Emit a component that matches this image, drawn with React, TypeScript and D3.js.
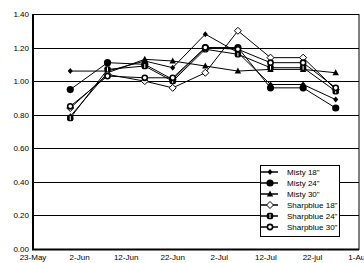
import React, { useEffect, useRef } from 'react';
import * as d3 from 'd3';

const sampleDates = ['2001-05-31', '2001-06-08', '2001-06-16', '2001-06-22', '2001-06-29', '2001-07-06', '2001-07-13', '2001-07-20', '2001-07-27'];
const tickDates = ['2001-05-23', '2001-06-02', '2001-06-12', '2001-06-22', '2001-07-02', '2001-07-12', '2001-07-22', '2001-08-01'];
const tickLabels = ['23-May', '2-Jun', '12-Jun', '22-Jun', '2-Jul', '12-Jul', '22-jul', '1-Aug'];
const yTicks = [0, 0.2, 0.4, 0.6, 0.8, 1.0, 1.2, 1.4];

const seriesNames = ['Misty 18"', 'Misty 24"', 'Misty 30"', 'Sharpblue 18"', 'Sharpblue 24"', 'Sharpblue 30"'];
const misty18 = [1.06, 1.06, 1.12, 1.08, 1.28, 1.17, 0.98, 0.98, 0.89];
const misty24 = [0.95, 1.11, 1.10, 1.01, 1.20, 1.20, 0.96, 0.96, 0.84];
const misty30 = [0.79, 1.05, 1.13, 1.12, 1.09, 1.06, 1.07, 1.07, 1.05];
const sharp18 = [0.84, 1.04, 1.00, 0.96, 1.05, 1.30, 1.14, 1.14, 0.95];
const sharp24 = [0.78, 1.07, 1.09, 1.00, 1.19, 1.16, 1.08, 1.08, 0.94];
const sharp30 = [0.85, 1.03, 1.02, 1.02, 1.20, 1.19, 1.11, 1.11, 0.96];
const seriesValues = [misty18, misty24, misty30, sharp18, sharp24, sharp30];

const font = 'Liberation Sans, Arial, sans-serif';

const App = () => {
  const svgRef = useRef(null);

  useEffect(() => {
    const width = 364;
    const height = 263;
    const svg = d3.select(svgRef.current);
    svg.selectAll('*').remove();
    svg.attr('width', width).attr('height', height);

    const parse = d3.utcParse('%Y-%m-%d');
    const x = d3.scaleUtc()
      .domain([parse(tickDates[0]), parse(tickDates[tickDates.length - 1])])
      .range([33, 359]);
    const y = d3.scaleLinear().domain([0, 1.4]).range([249, 14]);

    // gridlines
    svg.append('g')
      .selectAll('line')
      .data(yTicks)
      .enter()
      .append('line')
      .attr('x1', x.range()[0])
      .attr('x2', x.range()[1])
      .attr('y1', d => Math.round(y(d)) + 0.5)
      .attr('y2', d => Math.round(y(d)) + 0.5)
      .style('stroke', '#000')
      .style('stroke-width', 1);

    // frame
    svg.append('rect')
      .attr('x', 33.5)
      .attr('y', Math.round(y(1.4)) + 0.5)
      .attr('width', x.range()[1] - 33.5)
      .attr('height', Math.round(y(0)) - Math.round(y(1.4)))
      .style('fill', 'none')
      .style('stroke', '#000')
      .style('stroke-width', 1);
    svg.append('line')
      .attr('x1', 33).attr('x2', 33)
      .attr('y1', y(1.4)).attr('y2', y(0) + 1)
      .style('stroke', '#000').style('stroke-width', 2);
    svg.append('line')
      .attr('x1', 32).attr('x2', x.range()[1])
      .attr('y1', Math.round(y(0)) + 0.5).attr('y2', Math.round(y(0)) + 0.5)
      .style('stroke', '#000').style('stroke-width', 2);

    // y labels
    svg.append('g')
      .selectAll('text')
      .data(yTicks)
      .enter()
      .append('text')
      .attr('x', 29)
      .attr('y', d => y(d) + 3)
      .attr('text-anchor', 'end')
      .style('font-family', font)
      .style('font-size', '8px')
      .text(d => d.toFixed(2));

    // x labels
    svg.append('g')
      .selectAll('text')
      .data(tickDates)
      .enter()
      .append('text')
      .attr('x', d => x(parse(d)))
      .attr('y', 260)
      .attr('text-anchor', 'middle')
      .style('font-family', font)
      .style('font-size', '8px')
      .text((d, i) => tickLabels[i]);

    const drawMarker = (g, idx, cx, cy) => {
      if (idx === 0) {
        g.append('path').attr('d', `M${cx},${cy - 3}L${cx + 2.5},${cy}L${cx},${cy + 3}L${cx - 2.5},${cy}Z`).style('fill', '#000');
      } else if (idx === 1) {
        g.append('circle').attr('cx', cx).attr('cy', cy).attr('r', 3.6).style('fill', '#000');
      } else if (idx === 2) {
        g.append('path').attr('d', `M${cx},${cy - 3.5}L${cx + 3.2},${cy + 2.5}L${cx - 3.2},${cy + 2.5}Z`).style('fill', '#000');
      } else if (idx === 3) {
        g.append('path').attr('d', `M${cx},${cy - 3.5}L${cx + 3.5},${cy}L${cx},${cy + 3.5}L${cx - 3.5},${cy}Z`)
          .style('fill', '#fff').style('stroke', '#000').style('stroke-width', 1);
      } else if (idx === 4) {
        g.append('rect').attr('x', cx - 3.2).attr('y', cy - 3.2).attr('width', 6.4).attr('height', 6.4).attr('rx', 2).style('fill', '#000');
        g.append('line').attr('x1', cx).attr('x2', cx).attr('y1', cy - 2).attr('y2', cy + 2).style('stroke', '#fff').style('stroke-width', 1);
      } else {
        g.append('circle').attr('cx', cx).attr('cy', cy).attr('r', 2.6)
          .style('fill', '#fff').style('stroke', '#000').style('stroke-width', 1.6);
      }
    };

    const line = d3.line()
      .x((d, i) => x(parse(sampleDates[i])))
      .y(d => y(d));

    seriesValues.forEach((vals, si) => {
      svg.append('path')
        .datum(vals)
        .attr('d', line)
        .style('fill', 'none')
        .style('stroke', '#000')
        .style('stroke-width', 1);
    });
    seriesValues.forEach((vals, si) => {
      const g = svg.append('g');
      vals.forEach((v, i) => drawMarker(g, si, x(parse(sampleDates[i])), y(v)));
    });

    // legend
    const lx = 260;
    const ly = 165;
    const legend = svg.append('g');
    legend.append('rect')
      .attr('x', lx + 0.5).attr('y', ly + 0.5)
      .attr('width', 79).attr('height', 71)
      .style('fill', '#fff').style('stroke', '#000').style('stroke-width', 1);
    seriesNames.forEach((name, i) => {
      const ry = ly + 7 + i * 11;
      legend.append('line')
        .attr('x1', lx).attr('x2', lx + 18)
        .attr('y1', ry).attr('y2', ry)
        .style('stroke', '#000').style('stroke-width', 1.5);
      drawMarker(legend, i, lx + 10, ry);
      legend.append('text')
        .attr('x', lx + 27)
        .attr('y', ry + 3)
        .style('font-family', font)
        .style('font-size', '8px')
        .text(name);
    });
  }, []);

  return (
    <div style={{ position: 'absolute', left: 0, top: 0 }}>
      <svg ref={svgRef}></svg>
    </div>
  );
};

export default App;
